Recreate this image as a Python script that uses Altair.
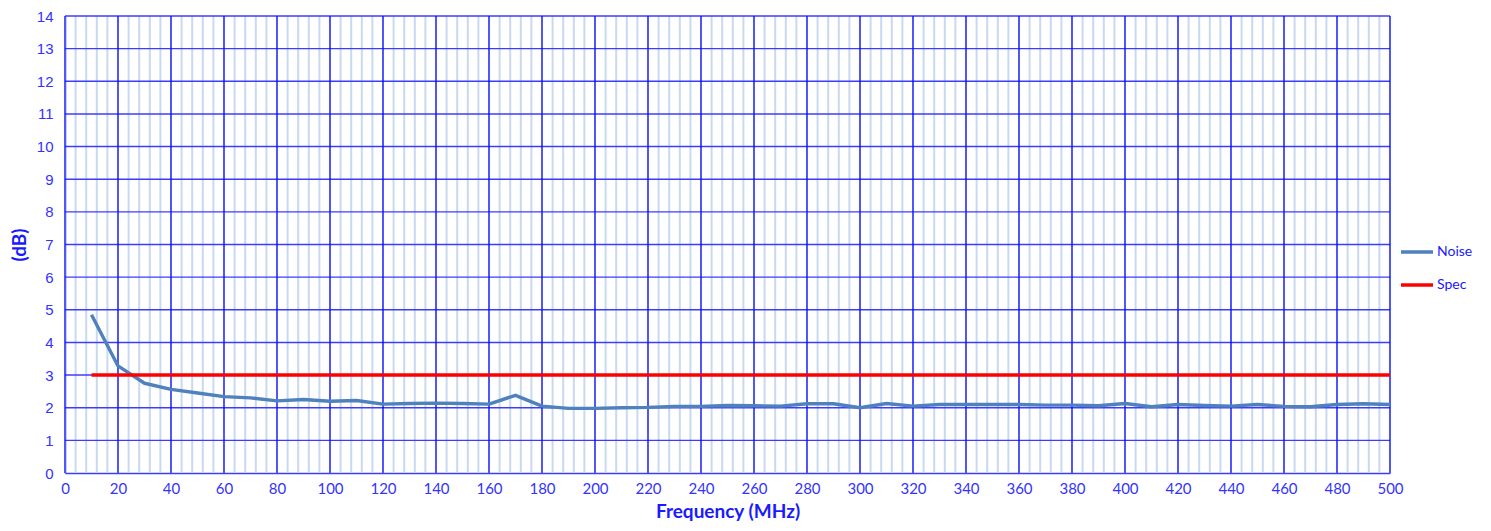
import altair as alt
import pandas as pd

freq = [10, 20, 30, 40, 50, 60, 70, 80, 90, 100, 110, 120, 130, 140, 150, 160, 170, 180, 190, 200,
        210, 220, 230, 240, 250, 260, 270, 280, 290, 300, 310, 320, 330, 340, 350, 360, 370, 380, 390, 400,
        410, 420, 430, 440, 450, 460, 470, 480, 490, 500]
noise = [4.85, 3.28, 2.75, 2.56, 2.45, 2.34, 2.30, 2.21, 2.25, 2.20, 2.22, 2.11, 2.13, 2.14, 2.13, 2.11, 2.38, 2.05, 1.98, 1.98,
         2.00, 2.01, 2.04, 2.04, 2.07, 2.06, 2.05, 2.12, 2.12, 2.00, 2.13, 2.05, 2.10, 2.10, 2.10, 2.10, 2.08, 2.08, 2.06, 2.13,
         2.03, 2.10, 2.07, 2.05, 2.10, 2.04, 2.03, 2.10, 2.12, 2.10]
spec_freq = [10, 500]
spec = [3, 3]

x_major = list(range(0, 501, 20))
x_minor = list(range(0, 501, 4))
y_grid = list(range(1, 15))
y_labels = list(range(0, 15))

df = pd.DataFrame(
    {"Frequency": freq + spec_freq,
     "dB": noise + spec,
     "Series": ["Noise"] * len(freq) + ["Spec"] * len(spec_freq)}
)

xs = alt.Scale(domain=[0, 500], nice=False, zero=False)
ys = alt.Scale(domain=[0, 14], nice=False)

x_axis = alt.Axis(values=x_major, grid=False, ticks=False, labelPadding=8,
                  labelFont="Lato", labelFontSize=15, labelColor="#3333ff",
                  labelOverlap=False,
                  titleFont="Lato", titleFontSize=19, titleFontWeight="bold",
                  titleColor="#1a1aff", titlePadding=6,
                  domainColor="#3c3cff", domainWidth=1.5, labelFlush=False)
y_axis = alt.Axis(values=y_labels, grid=False, ticks=False, labelPadding=12,
                  labelOverlap=False,
                  labelFont="Liberation Sans", labelFontSize=15, labelColor="#3333ff",
                  titleFont="Lato", titleFontSize=19, titleFontWeight="bold",
                  titleColor="#1a1aff", titlePadding=7,
                  domainColor="#3c3cff", domainWidth=1.5)

XT = "Frequency (MHz)"
YT = "(dB)"

minor = alt.Chart(pd.DataFrame({"v": x_minor})).mark_rule(
    color="#c9d9ef", strokeWidth=2
).encode(x=alt.X("v:Q", scale=xs, title=XT, axis=x_axis))

hgrid = alt.Chart(pd.DataFrame({"v": y_grid})).mark_rule(
    color="#3c3cff", strokeWidth=1.4
).encode(y=alt.Y("v:Q", scale=ys, title=YT, axis=y_axis))

major = alt.Chart(pd.DataFrame({"v": x_major})).mark_rule(
    color="#0000ff", strokeWidth=1.2
).encode(x=alt.X("v:Q", scale=xs, title=XT, axis=x_axis))

lines = alt.Chart(df).mark_line(strokeWidth=3.4, strokeJoin="round").encode(
    x=alt.X("Frequency:Q", scale=xs, title=XT, axis=x_axis),
    y=alt.Y("dB:Q", scale=ys, title=YT, axis=y_axis),
    color=alt.Color(
        "Series:N",
        scale=alt.Scale(domain=["Noise", "Spec"], range=["#4f81bd", "#ff0000"]),
        legend=alt.Legend(title=None, orient="none", legendX=1334, legendY=218,
                          padding=0,
                          symbolType="stroke", symbolSize=1024, symbolStrokeWidth=3.5,
                          labelFont="Lato", labelFontSize=14, labelColor="#1a1aff",
                          rowPadding=8, labelOffset=2),
    ),
)

chart = alt.layer(minor, hgrid, major, lines).properties(
    width=1325, height=457,
    autosize=alt.AutoSizeParams(type="none"),
    padding={"left": 57, "top": 8, "right": 85, "bottom": 50},
).configure_view(stroke=None)

chart.save("out.html", embed_options={"renderer": "svg", "actions": False})
